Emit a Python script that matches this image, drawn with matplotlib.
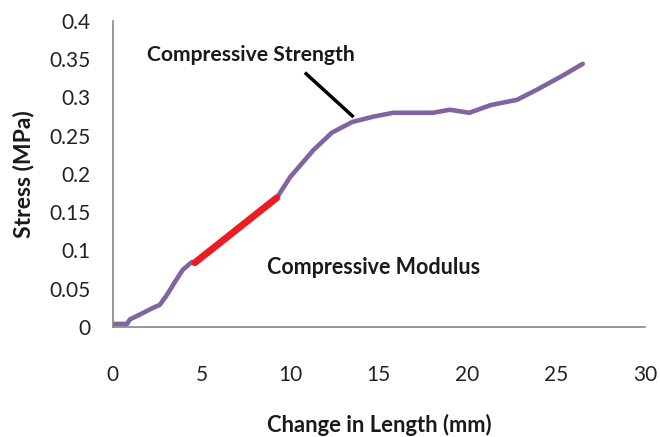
import matplotlib
matplotlib.use("Agg")
import matplotlib.pyplot as plt

# Data
curve_x = [0.0, 0.8, 0.96, 1.5, 2.26, 2.65, 3.05, 3.5, 3.95, 4.46, 4.62,
           9.25, 10.0, 11.3, 12.35, 13.5, 14.7, 15.8, 18.05, 19.0, 20.1,
           21.3, 22.8, 23.9, 25.4, 26.5]
curve_y = [0.004, 0.004, 0.010, 0.016, 0.025, 0.029, 0.042, 0.059, 0.075,
           0.085, 0.084, 0.169, 0.196, 0.231, 0.254, 0.268, 0.275, 0.280,
           0.280, 0.284, 0.280, 0.290, 0.297, 0.310, 0.329, 0.344]

modulus_x = [4.62, 9.25]
modulus_y = [0.084, 0.169]

arrow_x = [10.9, 13.5]
arrow_y = [0.331, 0.276]

x_ticks = [0, 5, 10, 15, 20, 25, 30]
y_ticks = [0, 0.05, 0.1, 0.15, 0.2, 0.25, 0.3, 0.35, 0.4]
y_tick_labels = ["0", "0.05", "0.1", "0.15", "0.2", "0.25", "0.3", "0.35", "0.4"]

FONT = ["Lato", "DejaVu Sans"]

fig = plt.figure(figsize=(6.6, 4.37), dpi=100)
ax = fig.add_axes([0.171, 0.2517, 0.806, 0.7003])

ax.plot(curve_x, curve_y, color="#8064A2", lw=3.3, solid_capstyle="round",
        solid_joinstyle="round", zorder=2)
ax.plot(modulus_x, modulus_y, color="#ED1C24", lw=5.0, solid_capstyle="round", zorder=3)
ax.plot(arrow_x, arrow_y, color="black", lw=2.5, zorder=3)

ax.text(1.9, 0.356, "Compressive Strength", fontsize=15.2, fontweight="bold",
        family=FONT, ha="left", va="center", color="#1a1a1a")
ax.text(8.7, 0.078, "Compressive Modulus", fontsize=15.5, fontweight="bold",
        family=FONT, ha="left", va="center", color="#1a1a1a")

ax.set_xlim(0, 30)
ax.set_ylim(0, 0.4)
ax.set_xticks(x_ticks)
ax.set_xticklabels([str(t) for t in x_ticks], family=FONT, fontsize=15, color="#222222")
ax.set_yticks(y_ticks)
ax.set_yticklabels(y_tick_labels, family=FONT, fontsize=15, color="#222222")
ax.tick_params(axis="x", length=0, pad=27)
ax.tick_params(axis="y", length=0, pad=16)

for s in ["top", "right"]:
    ax.spines[s].set_visible(False)
for s in ["left", "bottom"]:
    ax.spines[s].set_color("#868686")
    ax.spines[s].set_linewidth(1.2)

ax.set_xlabel("Change in Length (mm)", family=FONT, fontsize=15.8, fontweight="bold",
              labelpad=21, color="#1a1a1a")
ax.set_ylabel("Stress (MPa)", family=FONT, fontsize=16.5, fontweight="bold",
              labelpad=11, color="#1a1a1a")

fig.savefig("out.png", dpi=100, facecolor="white")
